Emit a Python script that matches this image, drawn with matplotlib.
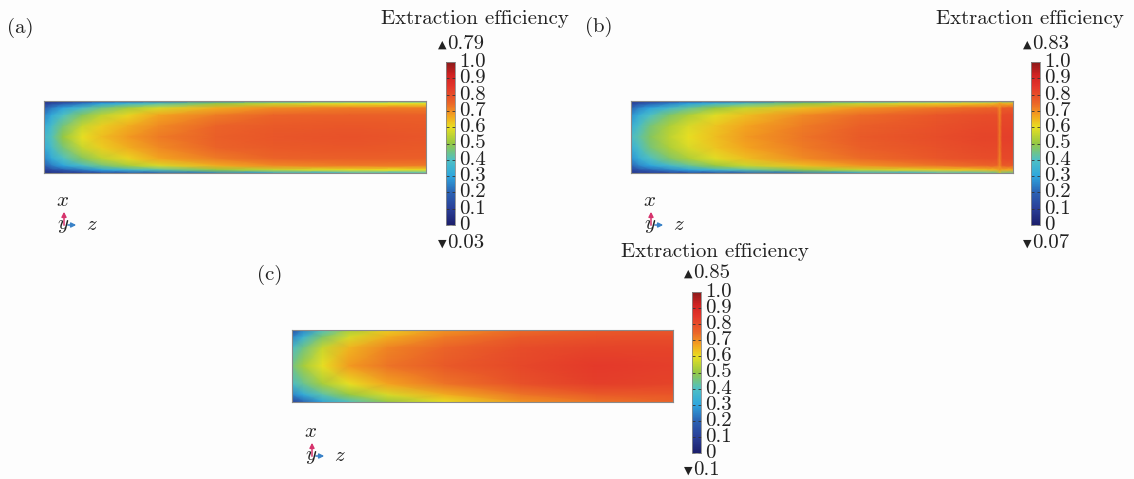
import numpy as np
import matplotlib
matplotlib.use("Agg")
import matplotlib.pyplot as plt
from matplotlib.colors import LinearSegmentedColormap, Normalize
from matplotlib.cm import ScalarMappable
from matplotlib.patches import FancyArrowPatch

plt.rcParams['font.family'] = ['cmr10', 'DejaVu Sans']
plt.rcParams['mathtext.fontset'] = 'cm'
plt.rcParams['axes.unicode_minus'] = False

# ---------------- data ----------------
panel_labels = ['(a)', '(b)', '(c)']
title_text = 'Extraction efficiency'
max_vals = [0.79, 0.83, 0.85]
min_vals = [0.03, 0.07, 0.1]
cbar_ticks = [0, 0.1, 0.2, 0.3, 0.4, 0.5, 0.6, 0.7, 0.8, 0.9, 1.0]
cbar_ticklabels = ['0', '0.1', '0.2', '0.3', '0.4', '0.5', '0.6', '0.7', '0.8', '0.9', '1.0']

# panel (a): z = along length (left->right), x = across (top->bottom)
z_a = [0, 0.02, 0.05, 0.1, 0.15, 0.22, 0.3, 0.45, 0.6, 0.8, 1.0]
x_a = [0, 0.04, 0.1, 0.2, 0.35, 0.5, 0.65, 0.8, 0.9, 0.96, 1.0]
eff_a = [
    [0.06, 0.07, 0.08, 0.10, 0.13, 0.17, 0.20, 0.25, 0.30, 0.36, 0.40],
    [0.10, 0.14, 0.18, 0.24, 0.30, 0.36, 0.42, 0.50, 0.56, 0.60, 0.60],
    [0.18, 0.24, 0.30, 0.38, 0.45, 0.52, 0.58, 0.66, 0.70, 0.72, 0.72],
    [0.25, 0.32, 0.40, 0.48, 0.55, 0.61, 0.67, 0.72, 0.75, 0.76, 0.76],
    [0.32, 0.38, 0.46, 0.56, 0.62, 0.66, 0.70, 0.75, 0.77, 0.78, 0.77],
    [0.36, 0.41, 0.50, 0.60, 0.64, 0.68, 0.72, 0.76, 0.78, 0.79, 0.78],
    [0.32, 0.38, 0.46, 0.56, 0.62, 0.66, 0.70, 0.75, 0.77, 0.78, 0.77],
    [0.25, 0.32, 0.40, 0.48, 0.55, 0.61, 0.67, 0.72, 0.75, 0.76, 0.76],
    [0.18, 0.24, 0.30, 0.38, 0.45, 0.52, 0.58, 0.66, 0.70, 0.72, 0.72],
    [0.10, 0.14, 0.18, 0.24, 0.30, 0.36, 0.42, 0.50, 0.56, 0.60, 0.60],
    [0.06, 0.07, 0.08, 0.10, 0.13, 0.17, 0.20, 0.25, 0.30, 0.36, 0.40],
]

z_b = [0, 0.02, 0.05, 0.1, 0.15, 0.22, 0.3, 0.45, 0.6, 0.8, 0.93, 0.958, 0.965, 0.972, 1.0]
x_b = [0, 0.04, 0.1, 0.2, 0.35, 0.5, 0.65, 0.8, 0.9, 0.96, 1.0]
eff_b = [
    [0.08, 0.09, 0.10, 0.11, 0.13, 0.16, 0.19, 0.24, 0.30, 0.38, 0.42, 0.45, 0.55, 0.45, 0.45],
    [0.12, 0.16, 0.20, 0.25, 0.30, 0.36, 0.42, 0.50, 0.56, 0.62, 0.64, 0.65, 0.68, 0.66, 0.66],
    [0.20, 0.25, 0.30, 0.37, 0.43, 0.50, 0.56, 0.64, 0.69, 0.73, 0.75, 0.75, 0.70, 0.77, 0.77],
    [0.27, 0.33, 0.40, 0.47, 0.53, 0.59, 0.64, 0.70, 0.74, 0.78, 0.80, 0.80, 0.71, 0.81, 0.81],
    [0.33, 0.39, 0.46, 0.53, 0.58, 0.63, 0.67, 0.72, 0.76, 0.79, 0.81, 0.81, 0.72, 0.82, 0.82],
    [0.38, 0.42, 0.48, 0.55, 0.60, 0.64, 0.68, 0.73, 0.77, 0.80, 0.82, 0.82, 0.72, 0.83, 0.83],
    [0.33, 0.39, 0.46, 0.53, 0.58, 0.63, 0.67, 0.72, 0.76, 0.79, 0.81, 0.81, 0.72, 0.82, 0.82],
    [0.27, 0.33, 0.40, 0.47, 0.53, 0.59, 0.64, 0.70, 0.74, 0.78, 0.80, 0.80, 0.71, 0.81, 0.81],
    [0.20, 0.25, 0.30, 0.37, 0.43, 0.50, 0.56, 0.64, 0.69, 0.73, 0.75, 0.75, 0.70, 0.77, 0.77],
    [0.12, 0.16, 0.20, 0.25, 0.30, 0.36, 0.42, 0.50, 0.56, 0.62, 0.64, 0.65, 0.68, 0.66, 0.66],
    [0.08, 0.09, 0.10, 0.11, 0.13, 0.16, 0.19, 0.24, 0.30, 0.38, 0.42, 0.45, 0.55, 0.45, 0.45],
]

z_c = [0, 0.03, 0.08, 0.15, 0.25, 0.4, 0.6, 0.8, 1.0]
x_c = [0, 0.1, 0.25, 0.5, 0.75, 0.9, 1.0]
eff_c = [
    [0.12, 0.25, 0.40, 0.52, 0.62, 0.69, 0.74, 0.77, 0.78],
    [0.25, 0.35, 0.47, 0.58, 0.66, 0.72, 0.77, 0.79, 0.80],
    [0.38, 0.45, 0.56, 0.65, 0.71, 0.75, 0.80, 0.82, 0.82],
    [0.45, 0.52, 0.60, 0.68, 0.73, 0.77, 0.81, 0.84, 0.83],
    [0.38, 0.44, 0.52, 0.60, 0.67, 0.73, 0.79, 0.83, 0.82],
    [0.25, 0.32, 0.42, 0.50, 0.58, 0.66, 0.73, 0.77, 0.78],
    [0.10, 0.20, 0.30, 0.40, 0.50, 0.60, 0.69, 0.73, 0.75],
]

# ---------------- style / layout ----------------
W, H = 1134, 479
fig = plt.figure(figsize=(W / 100, H / 100), dpi=100)
fig.patch.set_facecolor('#fdfdfd')

cmap = LinearSegmentedColormap.from_list('comsol_rainbow', [
    (0.00, '#1c1f6c'), (0.10, '#2a3f98'), (0.20, '#2b63b4'), (0.30, '#2ea6de'),
    (0.40, '#4fc0c4'), (0.50, '#94c844'), (0.60, '#e8df22'), (0.67, '#f3a41f'),
    (0.75, '#eb6428'), (0.85, '#e3362a'), (0.92, '#d22222'), (1.00, '#8a1a1a')])
norm = Normalize(0, 1)


def rect(x0, y0, x1, y1):
    return [x0 / W, 1 - y1 / H, (x1 - x0) / W, (y1 - y0) / H]


def fxy(x, y):
    return (x / W, 1 - y / H)


layout = [
    dict(lab=(20, 28), title=(475, 19), hm=(44, 101, 426, 173), cb=(446, 62, 455, 225),
         top=44, bot=243, tri=(64, 225)),
    dict(lab=(599, 27), title=(1030, 19), hm=(631, 101, 1013, 173), cb=(1031, 62, 1040, 225),
         top=44, bot=243, tri=(651, 225)),
    dict(lab=(270, 275), title=(715, 252), hm=(292, 330, 673, 402), cb=(692, 292, 701, 453),
         top=273, bot=470, tri=(312, 456)),
]
fields = [(z_a, x_a, eff_a), (z_b, x_b, eff_b), (z_c, x_c, eff_c)]
FS = 15
txtc = '#222222'

for i, L in enumerate(layout):
    zz, xx, vv = fields[i]
    ax = fig.add_axes(rect(*L['hm']))
    Zg, Xg = np.meshgrid(zz, xx)
    ax.pcolormesh(Zg, Xg, np.array(vv), shading='gouraud', cmap=cmap, norm=norm)
    ax.set_xlim(0, 1)
    ax.set_ylim(1, 0)
    ax.set_xticks([])
    ax.set_yticks([])
    for s in ax.spines.values():
        s.set_color('#8a8a8a')
        s.set_linewidth(0.8)

    cax = fig.add_axes(rect(*L['cb']))
    cb = fig.colorbar(ScalarMappable(norm=norm, cmap=cmap), cax=cax, ticks=cbar_ticks)
    cb.set_ticklabels(cbar_ticklabels)
    cb.outline.set_edgecolor('#8a8a8a')
    cb.outline.set_linewidth(0.6)
    cax.yaxis.set_ticks_position('both')
    cax.tick_params(axis='y', direction='in', length=2, width=0.6, color='#333333',
                    labelsize=FS, pad=3, labelcolor=txtc, labelleft=False, labelright=True)
    for t in cax.get_yticklabels():
        t.set_fontfamily('cmr10')
        t.set_verticalalignment('center')

    cbx0 = L['cb'][0]
    fig.text(*fxy(L['lab'][0], L['lab'][1]), panel_labels[i], ha='center', va='center',
             fontsize=FS, color=txtc)
    fig.text(*fxy(L['title'][0], L['title'][1]), title_text, ha='center', va='center',
             fontsize=FS, color=txtc)
    fig.text(*fxy(cbx0 - 4, L['top'] + 1), '\u25B2', ha='center', va='center', fontsize=8,
             family='DejaVu Sans', color=txtc)
    fig.text(*fxy(cbx0 + 1, L['top']), str(max_vals[i]), ha='left', va='center',
             fontsize=FS, color=txtc)
    fig.text(*fxy(cbx0 - 4, L['bot'] + 1), '\u25BC', ha='center', va='center', fontsize=8,
             family='DejaVu Sans', color=txtc)
    fig.text(*fxy(cbx0 + 1, L['bot']), str(min_vals[i]), ha='left', va='center',
             fontsize=FS, color=txtc)

    ox, oy = L['tri']
    fig.add_artist(FancyArrowPatch(fxy(ox, oy + 3), fxy(ox, oy - 16), transform=fig.transFigure,
                                   arrowstyle='-|>', mutation_scale=7, color='#d6336c', lw=1.1))
    fig.add_artist(FancyArrowPatch(fxy(ox + 1, oy), fxy(ox + 15, oy), transform=fig.transFigure,
                                   arrowstyle='-|>', mutation_scale=7, color='#3a82c8', lw=1.1))
    fig.text(*fxy(ox - 2, oy - 24), r'$x$', ha='center', va='center', fontsize=FS, color=txtc)
    fig.text(*fxy(ox - 1, oy + 1), r'$y$', ha='center', va='center', fontsize=FS, color=txtc)
    fig.text(*fxy(ox + 28, oy), r'$z$', ha='center', va='center', fontsize=FS, color=txtc)

fig.savefig('out.png', dpi=100, facecolor=fig.get_facecolor())
